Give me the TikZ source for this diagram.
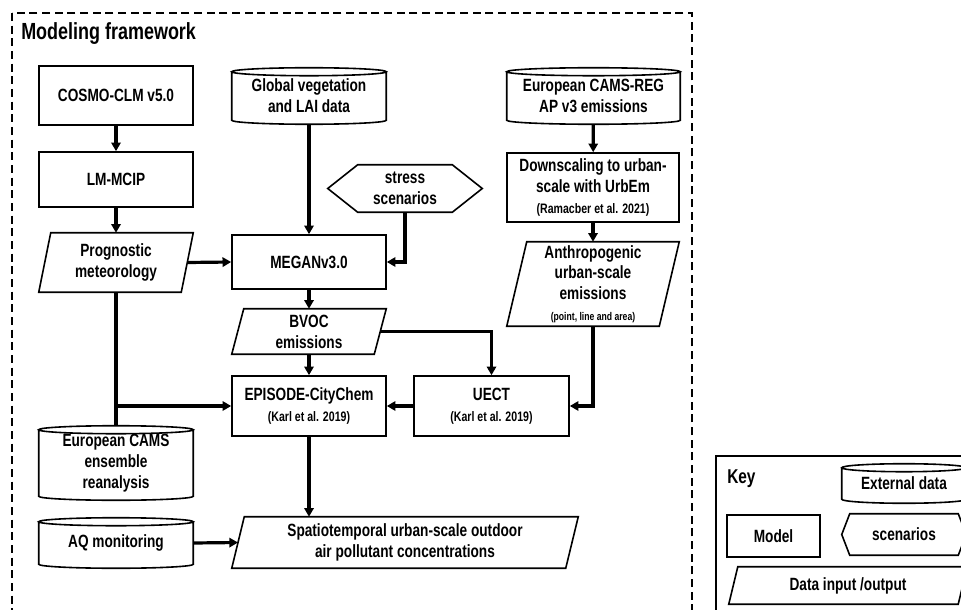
\documentclass[tikz,border=0pt]{standalone}
\usepackage{fontspec}
\setmainfont{Liberation Sans}[FakeStretch=0.77]
\usetikzlibrary{arrows.meta,calc}

\newcommand\mfs{\bfseries\fontsize{13.3}{15.6}\selectfont}
\newcommand\sfs{\bfseries\fontsize{10.3}{12}\selectfont}
\newcommand\tfs{\bfseries\fontsize{8.4}{9.5}\selectfont}

\newcommand\cylout[1]{\draw[outl] let \p1=(#1.north west), \p2=(#1.south east), \n1={(\x2-\x1)/2} in
 (\x1,\y1-3pt) -- (\x1,\y2+3pt) arc[start angle=180,end angle=360,x radius=\n1,y radius=3pt] -- (\x2,\y1-3pt)
 (\x1+\n1,\y1-3pt) ellipse[x radius=\n1,y radius=3pt];}
\newcommand\paraout[2]{\draw[outl] ([xshift=#2]#1.north west) -- (#1.north east) -- ([xshift=-#2]#1.south east) -- (#1.south west) -- cycle;}
\newcommand\hexout[2]{\draw[outl] (#1.west) -- ([xshift=#2]#1.north west) -- ([xshift=-#2]#1.north east) -- (#1.east) -- ([xshift=-#2]#1.south east) -- ([xshift=#2]#1.south west) -- cycle;}

\tikzset{
  outl/.style={line width=1.2pt},
  wpx/.style={minimum width=#1*0.75pt},
  hpx/.style={minimum height=#1*0.75pt},
  base/.style={inner sep=0pt, align=center, font=\mfs},
  model/.style={base, draw, outl},
  shp/.style={base, draw=none},
  conn/.style={line width=2.4pt, -{Triangle[length=6.5pt,width=7pt]}},
  plain/.style={line width=2.4pt},
  frame/.style={line width=1.1pt, dash pattern=on 6pt off 3.5pt}
}

\begin{document}
\begin{tikzpicture}[x=0.75pt,y=-0.75pt]
\useasboundingbox (0,0) rectangle (961,610);
\clip (0,0) rectangle (961,610);
\fill[white] (0,0) rectangle (961,610);

\draw[frame] (12,13) rectangle (692,625);
\node[anchor=base west, inner sep=0pt, font=\bfseries\fontsize{17.5}{20}\selectfont] (title) at (21,40) {Modeling framework};

% left column
\node[model, wpx=154, hpx=59] (cosmo) at (116,95.5) {COSMO-CLM v5.0};
\node[model, wpx=154, hpx=55] (lmmcip) at (116,179.5) {LM-MCIP};
\node[shp, wpx=154, hpx=59] (prog) at (116,262.5) {Prognostic\\meteorology};
\paraout{prog}{9pt}
\node[shp, wpx=154, hpx=74] (camsens) at (116,463) {European CAMS\\ensemble\\reanalysis};
\cylout{camsens}
\node[shp, wpx=154, hpx=50] (aq) at (116,543) {AQ monitoring};
\cylout{aq}

% middle column
\node[shp, wpx=154, hpx=56] (glob) at (309,96) {Global vegetation\\and LAI data};
\cylout{glob}
\node[shp, wpx=154, hpx=47] (stress) at (405,188.5) {stress\\scenarios};
\hexout{stress}{22.5pt}
\node[model, wpx=154, hpx=54] (megan) at (309,262) {MEGANv3.0};
\node[shp, wpx=154, hpx=45] (bvoc) at (309,331.5) {BVOC\\emissions};
\paraout{bvoc}{9pt}
\node[model, wpx=154, hpx=60] (episode) at (309,406) {EPISODE-CityChem\\{\sfs (Karl et al. 2019)}};
\node[model, wpx=155, hpx=60] (uect) at (491.5,406) {UECT\\{\sfs (Karl et al. 2019)}};
\node[shp, wpx=346, hpx=51] (spatio) at (405,542.5) {Spatiotemporal urban-scale outdoor\\air pollutant concentrations};
\paraout{spatio}{9.4pt}

% right column
\node[shp, wpx=173, hpx=56] (camsreg) at (593.5,96) {European CAMS-REG\\AP v3 emissions};
\cylout{camsreg}
\node[model, wpx=172, hpx=69] (down) at (593,187.5) {Downscaling to urban-\\scale with UrbEm\\{\sfs (Ramacber et al. 2021)}};
\node[shp, wpx=172, hpx=84] (anthro) at (593,284) {Anthropogenic\\urban-scale\\emissions\\{\tfs (point, line and area)}};
\paraout{anthro}{15pt}

% connectors
\draw[conn] (cosmo) -- (lmmcip);
\draw[conn] (lmmcip) -- (prog);
\draw[plain] (prog.south) -- (camsens.north);
\coordinate (j) at (prog.south |- episode.west);
\draw[conn] (j) -- (episode.west);
\draw[conn] ([xshift=-4.5pt]prog.east) -- (megan.west);
\draw[conn] (glob) -- (megan);
\draw[conn] (stress.south) |- (megan.east);
\draw[conn] (megan) -- (bvoc);
\draw[conn] (bvoc) -- (episode);
\draw[conn] ([xshift=-4.5pt]bvoc.east) -| (uect.north);
\draw[conn] (uect) -- (episode);
\draw[conn] (episode.south) -- (episode.south |- spatio.north);
\draw[conn] (aq.east) -- ([xshift=4.7pt]spatio.west);
\draw[conn] (camsreg) -- (down);
\draw[conn] (down) -- (anthro);
\draw[conn] (anthro.south) |- (uect.east);

% key
\node[draw, outl, wpx=259, hpx=169] (keybox) at (845.5,540.5) {};
\node[anchor=base west, inner sep=0pt, font=\bfseries\fontsize{15}{17}\selectfont] (keytitle) at (727,483) {Key};
\node[shp, wpx=124, hpx=39] (keyext) at (904,483.5) {External data};
\cylout{keyext}
\node[model, wpx=93, hpx=42] (keymodel) at (773.5,536) {Model};
\node[shp, wpx=124, hpx=41] (keyscen) at (904,534.5) {scenarios};
\hexout{keyscen}{6pt}
\node[shp, wpx=238, hpx=37] (keydata) at (848,585.5) {Data input /output};
\paraout{keydata}{6.8pt}
\end{tikzpicture}
\end{document}
